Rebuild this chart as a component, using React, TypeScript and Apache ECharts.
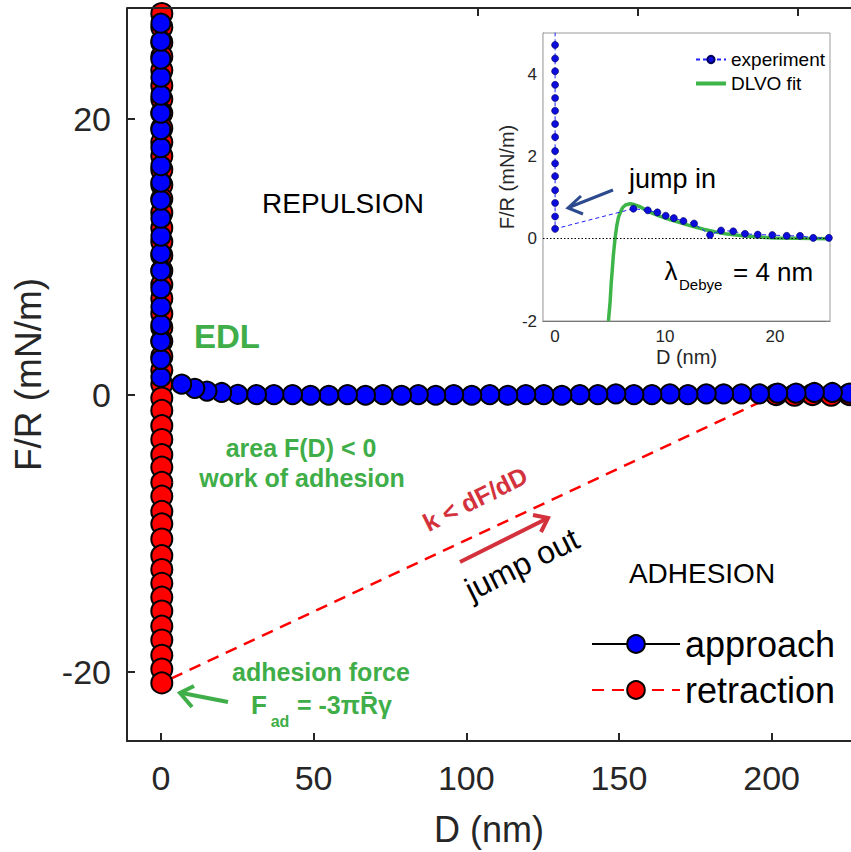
import React, { useEffect, useRef } from "react";
import * as echarts from "echarts";

// ---------- main chart data ----------
const mainXTicks = [0, 50, 100, 150, 200];
const mainYTicks = [-20, 0, 20];

// approach: far -> near (flat tail), then compression column at D ~ 0
const approachTailD = [
  225.5, 219.9, 214.0, 208.0, 202.0, 196.0, 190.1, 184.3, 178.6, 172.6,
  166.7, 160.8, 154.9, 149.0, 143.1, 137.2, 131.3, 125.4, 119.5, 113.6,
  107.7, 101.8, 95.9, 90.0, 84.3, 78.8, 72.7, 67.0, 61.1, 55.0,
  49.0, 43.1, 37.0, 31.3, 25.2, 19.9, 15.1, 11.1, 6.8,
];
const approachTailF = [
  0.15, 0.2, 0.2, 0.15, 0.15, 0.1, 0.1, 0.1, 0.1, 0.05,
  0.1, 0.05, 0.05, 0.1, 0.05, 0.05, 0.0, 0.05, 0.05, 0.0,
  0.05, 0.0, 0.05, 0.0, 0.05, 0.0, 0.05, 0.0, 0.05, 0.0,
  0.0, 0.05, 0.05, 0.05, 0.07, 0.2, 0.3, 0.5, 0.8,
];
const approachColumnD = [
  0.0, 0.0, 0.0, 0.0, 0.0, 0.0, 0.0, 0.0, 0.0, 0.0, 0.0,
  0.0, 0.0, 0.0, 0.0, 0.0, 0.0, 0.0, 0.0, 0.0, 0.0,
];
const approachColumnF = [
  1.3, 2.6, 3.9, 5.1, 6.4, 7.7, 9.0, 10.25, 11.5, 12.8, 14.1,
  15.4, 16.6, 17.9, 19.2, 20.4, 21.7, 23.0, 24.3, 25.6, 26.9,
];

// retraction: column at D ~ 0 from top to adhesion minimum, then jump out
const retractionColumnD = [
  0.3, 0.3, 0.3, 0.3, 0.3, 0.3, 0.3, 0.3, 0.3, 0.3, 0.3, 0.3,
  0.3, 0.3, 0.3, 0.3, 0.3, 0.3, 0.3, 0.3, 0.3, 0.3, 0.3, 0.3,
  0.3, 0.3, 0.3, 0.3, 0.3, 0.3, 0.3, 0.3, 0.3, 0.3, 0.3, 0.3,
  0.3, 0.3, 0.3, 0.3, 0.3, 0.3, 0.3, 0.3, 0.3, 0.3, 0.3, 0.3,
];
const retractionColumnF = [
  27.6, 26.6, 25.5, 24.5, 23.5, 22.4, 21.4, 20.4, 19.3, 18.3, 17.3, 16.3,
  15.2, 14.2, 13.2, 12.1, 11.1, 10.1, 9.0, 8.0, 7.0, 5.9, 4.9, 3.9,
  2.8, 1.8, 0.8, -0.2, -1.1, -2.2, -3.2, -4.3, -5.2, -6.3, -7.3, -8.4,
  -9.3, -10.4, -11.6, -12.6, -13.6, -14.6, -15.6, -16.7, -17.7, -18.8, -19.8, -20.8,
];
const retractionTailD = [201.5, 207.5, 213.4, 219.5, 225.5];
const retractionTailF = [0.05, 0.0, 0.05, 0.0, 0.05];

// ---------- inset data ----------
const insetXTicks = [0, 10, 20];
const insetYTicks = [-2, 0, 2, 4];

const experimentTailD = [
  24.9, 23.48, 22.27, 21.06, 19.75, 18.43, 17.27, 16.2, 15.09, 14.09,
  12.64, 11.67, 10.8, 10.06, 9.3, 8.43, 7.12,
];
const experimentTailF = [
  0.02, 0.02, 0.07, 0.07, 0.09, 0.1, 0.12, 0.18, 0.2, 0.09,
  0.37, 0.43, 0.5, 0.56, 0.64, 0.69, 0.73,
];
const experimentColumnD = [
  0, 0, 0, 0, 0, 0, 0, 0, 0, 0, 0, 0, 0, 0, 0, 0,
];
const experimentColumnF = [
  0.24, 0.54, 0.87, 1.18, 1.52, 1.83, 2.13, 2.47, 2.79, 3.11, 3.42, 3.74,
  4.07, 4.38, 4.71, 5.35,
];

const fitD = [
  4.85, 5.0, 5.1, 5.2, 5.3, 5.45, 5.6, 5.76, 6.0, 6.15, 6.4, 6.8, 7.2, 7.7,
  8.5, 9.5, 10.5, 11.5, 12.5, 13.5, 14.5, 15.5, 17.0, 18.5, 20.0, 22.0, 25.0,
];
const fitF = [
  -2.0, -1.55, -1.1, -0.75, -0.4, 0.0, 0.3, 0.52, 0.68, 0.76, 0.82, 0.85, 0.83, 0.78,
  0.66, 0.55, 0.46, 0.38, 0.3, 0.23, 0.17, 0.12, 0.07, 0.04, 0.02, 0.01, 0.0,
];

// ---------- styling ----------
const FONT = "'Liberation Sans', Arial, Helvetica, sans-serif";
const AXIS = "#262626";
const GREEN = "#3fae49";
const FIT_GREEN = "#3db549";
const RED_T = "#d3313c";
const NAVY = "#2e4a8e";

const zip = (xs: number[], ys: number[]) => xs.map((x, i) => [x, ys[i]]);

const approachData = [
  ...zip(approachTailD, approachTailF),
  ...zip(approachColumnD, approachColumnF),
];
const retractionData = [
  ...zip(retractionColumnD, retractionColumnF),
  ...zip(retractionTailD, retractionTailF),
];
const experimentData = [
  ...zip(experimentTailD, experimentTailF),
  ...zip(experimentColumnD, experimentColumnF),
];
const fitData = zip(fitD, fitF);

function txt(
  text: string,
  x: number,
  y: number,
  size: number,
  color: string,
  extra: any = {}
) {
  return {
    type: "text",
    x,
    y,
    rotation: extra.rotation || 0,
    z: 100,
    style: {
      text,
      fill: color,
      fontSize: size,
      fontWeight: extra.bold ? "bold" : "normal",
      fontFamily: FONT,
      align: extra.align || "center",
      verticalAlign: "middle",
    },
  };
}

function seg(x1: number, y1: number, x2: number, y2: number, color: string, w: number) {
  return {
    type: "line",
    z: 100,
    shape: { x1, y1, x2, y2 },
    style: { stroke: color, lineWidth: w },
  };
}

function head(points: number[][], color: string, w: number) {
  return {
    type: "polyline",
    z: 100,
    shape: { points },
    style: { stroke: color, lineWidth: w, fill: "none", lineJoin: "miter" },
  };
}

const ROT = (26.5 * Math.PI) / 180;

const graphics: any[] = [
  // main box top edge with its ticks
  seg(127, 8, 851, 8, AXIS, 2),
  seg(478, 8, 478, 16, AXIS, 2),
  seg(638, 8, 638, 16, AXIS, 2),
  seg(798, 8, 798, 16, AXIS, 2),

  txt("REPULSION", 343, 203, 28, "#000"),
  txt("ADHESION", 702, 573, 28, "#000"),
  txt("EDL", 227, 336, 33, GREEN, { bold: true }),
  txt("area F(D) < 0", 301, 448, 25, GREEN, { bold: true }),
  txt("work of adhesion", 302, 478, 25, GREEN, { bold: true }),
  txt("adhesion force", 321, 672, 25, GREEN, { bold: true }),
  txt("F", 259, 705, 26, GREEN, { bold: true }),
  txt("ad", 280, 721, 16, GREEN, { bold: true }),
  txt("= -3\u03c0R\u0304\u03b3", 297, 705, 25, GREEN, { bold: true, align: "left" }),

  txt("k < dF/dD", 475, 499, 25, RED_T, { bold: true, rotation: ROT }),
  txt("jump out", 522, 564, 32, "#000", { rotation: ROT }),

  // red jump-out arrow
  seg(460, 562, 546, 519, RED_T, 4),
  head([[533, 515], [548, 518], [541, 532]], RED_T, 4),

  // green adhesion arrow
  seg(228, 702, 182, 693, GREEN, 4),
  head([[194, 686], [180, 693], [192, 707]], GREEN, 4),

  // inset annotations
  txt("jump in", 629, 179, 27, "#000", { align: "left" }),
  seg(613, 190, 570, 207, NAVY, 3),
  head([[581, 196], [568, 208], [583, 214]], NAVY, 3),

  txt("\u03bb", 671, 271, 26, "#000"),
  txt("Debye", 679, 284, 15, "#000", { align: "left" }),
  txt("= 4 nm", 733, 272, 26, "#000", { align: "left" }),
];

const option: any = {
  animation: false,
  backgroundColor: "#ffffff",
  textStyle: { fontFamily: FONT },
  grid: [
    { left: 127, top: 8, right: 0, bottom: 110, show: false },
    {
      left: 543,
      top: 33,
      width: 287,
      height: 288,
      show: true,
      backgroundColor: "#ffffff",
      borderColor: "#9a9a9a",
      borderWidth: 1,
      z: 1,
    },
  ],
  xAxis: [
    {
      gridIndex: 0,
      type: "value",
      min: -11.1,
      max: 226,
      position: "bottom",
      axisLine: { onZero: false, lineStyle: { color: AXIS, width: 2 } },
      axisTick: {
        inside: true,
        length: 8,
        customValues: mainXTicks,
        lineStyle: { color: AXIS, width: 2 },
      },
      axisLabel: {
        customValues: mainXTicks,
        fontSize: 34,
        color: AXIS,
        margin: 20,
        fontFamily: FONT,
      },
      splitLine: { show: false },
      name: "D (nm)",
      nameLocation: "middle",
      nameGap: 70,
      nameTextStyle: { fontSize: 36, color: AXIS, fontFamily: FONT },
    },
    {
      gridIndex: 1,
      type: "value",
      min: -1.1,
      max: 25,
      position: "bottom",
      axisLine: { onZero: false, lineStyle: { color: "#555", width: 1.2 } },
      axisTick: {
        inside: true,
        length: 4,
        customValues: insetXTicks,
        lineStyle: { color: "#555", width: 1 },
      },
      axisLabel: {
        customValues: insetXTicks,
        fontSize: 17,
        color: AXIS,
        margin: 7,
        fontFamily: FONT,
      },
      splitLine: { show: false },
      name: "D (nm)",
      nameLocation: "middle",
      nameGap: 26,
      nameTextStyle: { fontSize: 20, color: AXIS, fontFamily: FONT },
    },
    {
      gridIndex: 1,
      type: "value",
      min: -1.1,
      max: 25,
      position: "top",
      axisLine: { show: false, onZero: false },
      axisTick: {
        inside: true,
        length: 4,
        customValues: insetXTicks,
        lineStyle: { color: "#777", width: 1 },
      },
      axisLabel: { show: false },
      splitLine: { show: false },
    },
  ],
  yAxis: [
    {
      gridIndex: 0,
      type: "value",
      min: -25,
      max: 28,
      position: "left",
      axisLine: { onZero: false, lineStyle: { color: AXIS, width: 2 } },
      axisTick: {
        inside: true,
        length: 8,
        customValues: mainYTicks,
        lineStyle: { color: AXIS, width: 2 },
      },
      axisLabel: {
        customValues: mainYTicks,
        fontSize: 34,
        color: AXIS,
        margin: 16,
        fontFamily: FONT,
      },
      splitLine: { show: false },
      name: "F/R (mN/m)",
      nameLocation: "middle",
      nameGap: 80,
      nameTextStyle: { fontSize: 37, color: AXIS, fontFamily: FONT },
    },
    {
      gridIndex: 1,
      type: "value",
      min: -2,
      max: 5,
      position: "left",
      axisLine: { onZero: false, lineStyle: { color: "#555", width: 1.2 } },
      axisTick: {
        inside: true,
        length: 4,
        customValues: insetYTicks,
        lineStyle: { color: "#555", width: 1 },
      },
      axisLabel: {
        customValues: insetYTicks,
        fontSize: 17,
        color: AXIS,
        margin: 6,
        fontFamily: FONT,
      },
      splitLine: { show: false },
      name: "F/R (mN/m)",
      nameLocation: "middle",
      nameGap: 26,
      nameTextStyle: { fontSize: 20, color: AXIS, fontFamily: FONT },
    },
    {
      gridIndex: 1,
      type: "value",
      min: -2,
      max: 5,
      position: "right",
      axisLine: { show: false, onZero: false },
      axisTick: {
        inside: true,
        length: 4,
        customValues: insetYTicks,
        lineStyle: { color: "#777", width: 1 },
      },
      axisLabel: { show: false },
      splitLine: { show: false },
    },
  ],
  legend: [
    {
      data: ["approach", "retraction"],
      orient: "vertical",
      left: 586,
      top: 621,
      itemWidth: 88,
      itemHeight: 22,
      itemGap: 10,
      textStyle: { fontSize: 36, color: "#000", fontFamily: FONT },
      selectedMode: false,
    },
    {
      data: [
        "experiment",
        {
          name: "DLVO fit",
          icon: "path://M0,0H30V4H0Z",
          itemStyle: { color: FIT_GREEN },
        },
      ],
      orient: "vertical",
      left: 690,
      top: 45,
      itemWidth: 30,
      itemHeight: 9,
      itemGap: 5,
      textStyle: { fontSize: 19, color: "#000", fontFamily: FONT },
      selectedMode: false,
    },
  ],
  series: [
    {
      name: "retraction",
      type: "line",
      xAxisIndex: 0,
      yAxisIndex: 0,
      data: retractionData,
      symbol: "circle",
      symbolSize: 21,
      clip: false,
      itemStyle: { color: "#ff0000", borderColor: "#000", borderWidth: 2 },
      lineStyle: { color: "#ff0000", width: 2.5, type: [12, 8] },
      z: 2,
    },
    {
      name: "approach",
      type: "line",
      xAxisIndex: 0,
      yAxisIndex: 0,
      data: approachData,
      symbol: "circle",
      symbolSize: 19,
      clip: false,
      itemStyle: { color: "#0000ff", borderColor: "#000", borderWidth: 2 },
      lineStyle: { color: "#000", width: 2 },
      z: 3,
    },
    {
      name: "DLVO fit",
      type: "line",
      xAxisIndex: 1,
      yAxisIndex: 1,
      data: fitData,
      symbol: "none",
      showSymbol: false,
      clip: true,
      itemStyle: { color: FIT_GREEN },
      lineStyle: { color: FIT_GREEN, width: 3.5 },
      z: 4,
    },
    {
      name: "experiment",
      type: "line",
      xAxisIndex: 1,
      yAxisIndex: 1,
      data: experimentData,
      symbol: "circle",
      symbolSize: 7,
      clip: true,
      itemStyle: { color: "#0c0cdc", borderColor: "#00005a", borderWidth: 0.6 },
      lineStyle: { color: "#2020ff", width: 1, type: [4, 3] },
      z: 5,
      markLine: {
        silent: true,
        symbol: ["none", "none"],
        label: { show: false },
        lineStyle: { color: "#000", type: [1.5, 2], width: 1 },
        data: [{ yAxis: 0 }],
      },
    },
  ],
  graphic: { elements: graphics },
};

export default function App() {
  const ref = useRef<HTMLDivElement>(null);
  useEffect(() => {
    document.body.style.margin = "0";
    const chart = echarts.init(ref.current as HTMLDivElement, null, {
      renderer: "svg",
    });
    chart.setOption(option);
    return () => chart.dispose();
  }, []);
  return (
    <div
      ref={ref}
      style={{ width: 851, height: 852, position: "absolute", left: 0, top: 0 }}
    />
  );
}
